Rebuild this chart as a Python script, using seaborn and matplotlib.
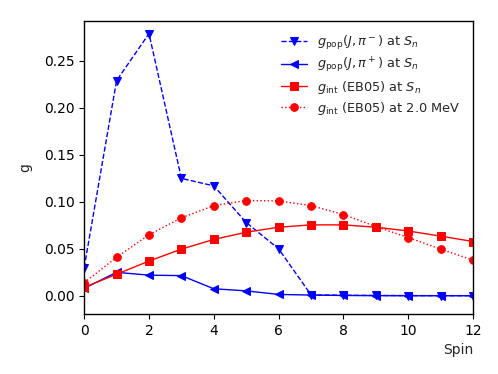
import matplotlib
matplotlib.use("Agg")
import matplotlib.pyplot as plt
import seaborn as sns
import numpy as np

spin = list(range(13))
gpop_minus = [0.030, 0.229, 0.279, 0.125, 0.117, 0.078, 0.050, 0.001, 0.0006, 0.0004, 0.0003, 0.0002, 0.0002]
gpop_plus = [0.008, 0.025, 0.022, 0.0215, 0.0075, 0.0053, 0.0015, 0.0008, 0.0004, 0.0002, 0.0001, 0.0001, 0.0001]
gint_sn = [0.009, 0.023, 0.037, 0.0497, 0.060, 0.0677, 0.073, 0.0755, 0.0755, 0.073, 0.069, 0.0635, 0.0578]
gint_2mev = [0.014, 0.041, 0.065, 0.083, 0.096, 0.1014, 0.101, 0.096, 0.0865, 0.0737, 0.062, 0.0497, 0.038]

labels = [r'$g_{\rm pop}(J,\pi^-)$ at $S_n$',
          r'$g_{\rm pop}(J,\pi^+)$ at $S_n$',
          r'$g_{\rm int}$ (EB05) at $S_n$',
          r'$g_{\rm int}$ (EB05) at 2.0 MeV']

sns.set_style("ticks")
plt.rcParams['font.family'] = ['DejaVu Sans']
plt.rcParams['font.size'] = 10
plt.rcParams['axes.edgecolor'] = 'black'
plt.rcParams['axes.linewidth'] = 1.0
plt.rcParams['xtick.color'] = 'black'
plt.rcParams['ytick.color'] = 'black'
plt.rcParams['xtick.major.size'] = 3.5
plt.rcParams['ytick.major.size'] = 3.5

fig, ax = plt.subplots(figsize=(4.98, 3.74), dpi=100)
fig.subplots_adjust(left=0.169, right=0.95, top=0.944, bottom=0.160)

common = dict(ax=ax, markersize=5.5, linewidth=1.0)
sns.lineplot(x=spin, y=gpop_minus, color='blue', linestyle='--', marker='v',
             markeredgecolor='blue', label=labels[0], **common)
sns.lineplot(x=spin, y=gpop_plus, color='blue', linestyle='-', marker='<',
             markeredgecolor='blue', label=labels[1], **common)
sns.lineplot(x=spin, y=gint_sn, color='red', linestyle='-', marker='s',
             markeredgecolor='red', label=labels[2], **common)
sns.lineplot(x=spin, y=gint_2mev, color='red', linestyle=':', marker='o',
             markeredgecolor='red', label=labels[3], **common)

ax.set_xlim(0, 12)
ax.set_ylim(-0.0195, 0.2925)
ax.set_xticks([0, 2, 4, 6, 8, 10, 12])
ax.set_yticks([0.0, 0.05, 0.10, 0.15, 0.20, 0.25])
ax.set_yticklabels(['0.00', '0.05', '0.10', '0.15', '0.20', '0.25'])
ax.set_xlabel('Spin', loc='right')
ax.set_ylabel('g', labelpad=8)
for s in ax.spines.values():
    s.set_visible(True)
    s.set_color('black')
ax.legend(loc='upper right', frameon=False, fontsize=9.3, borderaxespad=0.6,
          labelspacing=0.3)

fig.savefig('out.png', dpi=100)
